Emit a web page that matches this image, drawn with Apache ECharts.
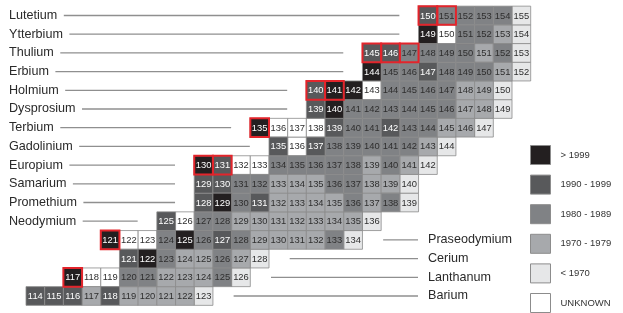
<!DOCTYPE html>
<html>
<head>
<meta charset="utf-8">
<script src="https://cdn.jsdelivr.net/npm/echarts@6/dist/echarts.min.js"></script>
<style>
html,body{margin:0;padding:0;background:#fff;}
#chart{width:623px;height:313px;}
</style>
</head>
<body>
<div id="chart"></div>
<script>
// ---- data ----
const elements = ['Barium','Lanthanum','Cerium','Praseodymium','Neodymium','Promethium','Samarium','Europium','Gadolinium','Terbium','Dysprosium','Holmium','Erbium','Thulium','Ytterbium','Lutetium'];
const protonNumbers = [56,57,58,59,60,61,62,63,64,65,66,67,68,69,70,71];
const lightestMass = [114,117,121,121,125,128,129,130,135,135,139,140,144,145,149,150];
const labelOnRight = [true,true,true,true,false,false,false,false,false,false,false,false,false,false,false,false];
// era code per isotope, from lightest mass upward:
// 0 unknown, 1 <1970, 2 1970-1979, 3 1980-1989, 4 1990-1999, 5 >1999
const discoveryEra = [
  [4,4,4,2,4,2,2,2,2,1],            // Ba 114-123
  [5,0,0,3,3,2,2,2,3,1],            // La 117-126
  [4,5,3,2,2,3,2,1],                // Ce 121-128
  [5,0,0,3,5,3,4,3,2,2,2,2,3,1],    // Pr 121-134
  [4,0,3,3,2,2,2,2,2,2,2,1],        // Nd 125-136
  [4,5,3,4,2,2,2,2,3,2,3,1],        // Pm 128-139
  [4,4,3,3,2,2,2,3,3,2,2,1],        // Sm 129-140
  [5,4,0,0,3,3,3,3,3,2,3,2,1],      // Eu 130-142
  [4,0,4,3,3,3,3,3,2,1],            // Gd 135-144
  [5,0,0,0,4,3,3,4,3,3,2,2,1],      // Tb 135-147
  [4,5,3,3,3,3,3,3,2,2,1],          // Dy 139-149
  [4,5,5,0,3,3,3,3,2,2,1],          // Ho 140-150
  [5,3,3,4,3,3,3,2,1],              // Er 144-152
  [4,4,3,3,3,3,2,3,1],              // Tm 145-153
  [5,0,3,3,2,1],                    // Yb 149-154
  [4,3,3,3,3,1]                     // Lu 150-155
];
// highlighted isotopes [Z, A]
const highlighted = [[71,150],[71,151],[69,145],[69,146],[69,147],[67,140],[67,141],[65,135],[63,130],[63,131],[59,121],[57,117]];
const eraNames = ['UNKNOWN','< 1970','1970 - 1979','1980 - 1989','1990 - 1999','> 1999'];
const eraColors = ['#ffffff','#e6e7e8','#a7a9ac','#808285','#58595b','#231f20'];

// ---- build ----
const cellsByEra = eraNames.map(() => []);
const labelData = [];
elements.forEach((name, i) => {
  const z = protonNumbers[i];
  const eras = discoveryEra[i];
  eras.forEach((e, k) => {
    const a = lightestMass[i] + k;
    cellsByEra[e].push([a - z, z, a, e]);
  });
  labelData.push([lightestMass[i] - z, z, lightestMass[i] + eras.length - 1 - z, labelOnRight[i] ? 1 : 0, i]);
});
const boxData = highlighted.map(([z, a]) => [a - z, z]);

const labelFont = '12.6px "Liberation Sans", Arial, sans-serif';
const measureCtx = document.createElement('canvas').getContext('2d');
measureCtx.font = labelFont;

function renderCell(params, api) {
  const n = api.value(0), z = api.value(1), a = api.value(2), e = api.value(3);
  const p0 = api.coord([n - 0.5, z + 0.5]);
  const p1 = api.coord([n + 0.5, z - 0.5]);
  return {
    type: 'group',
    children: [
      { type: 'rect', shape: { x: p0[0], y: p0[1], width: p1[0] - p0[0], height: p1[1] - p0[1] },
        style: { fill: eraColors[e], stroke: '#8c8c8c', lineWidth: 0.8 } },
      { type: 'text', style: { text: String(a), x: (p0[0] + p1[0]) / 2, y: (p0[1] + p1[1]) / 2 + 0.5,
        align: 'center', verticalAlign: 'middle', fill: e >= 4 ? '#ffffff' : '#2e2e2e',
        font: '9.4px "Liberation Sans", Arial, sans-serif' } }
    ]
  };
}

function renderBox(params, api) {
  const n = api.value(0), z = api.value(1);
  const p0 = api.coord([n - 0.5, z + 0.5]);
  const p1 = api.coord([n + 0.5, z - 0.5]);
  return { type: 'rect', shape: { x: p0[0], y: p0[1], width: p1[0] - p0[0], height: p1[1] - p0[1] },
    style: { fill: 'none', stroke: '#e3242b', lineWidth: 2 } };
}

function renderLabel(params, api) {
  const nFirst = api.value(0), z = api.value(1), nLast = api.value(2), right = api.value(3), idx = api.value(4);
  const name = elements[idx];
  const y = api.coord([nFirst, z])[1];
  let x1, x2, tx;
  if (right) {
    x1 = api.coord([nLast + 1.5, z])[0] + 2;
    x2 = 418;
    tx = 428;
  } else {
    tx = 9;
    x1 = tx + measureCtx.measureText(name).width + 6.5;
    x2 = api.coord([nFirst - 1.5, z])[0] - 0.5;
  }
  return {
    type: 'group',
    children: [
      { type: 'line', shape: { x1: x1, y1: y, x2: x2, y2: y }, style: { stroke: '#8f8f8f', lineWidth: 1.3 } },
      { type: 'text', style: { text: name, x: tx, y: y, align: 'left', verticalAlign: 'middle', fill: '#2a2a2a', font: labelFont } }
    ]
  };
}

const series = eraNames.map((nm, e) => ({
  name: nm,
  type: 'custom',
  renderItem: renderCell,
  data: cellsByEra[e],
  itemStyle: { color: eraColors[e], borderColor: '#8c8c8c', borderWidth: 1 },
  clip: false,
  z: 2
}));
series.push({ type: 'custom', renderItem: renderBox, data: boxData, clip: false, z: 5, silent: true });
series.push({ type: 'custom', renderItem: renderLabel, data: labelData, clip: false, z: 3, silent: true });

const chart = echarts.init(document.getElementById('chart'), null, { renderer: 'canvas' });
chart.setOption({
  animation: false,
  backgroundColor: '#ffffff',
  grid: { left: 26, right: 92.3, top: 6.15, bottom: 7.65 },
  xAxis: { type: 'value', min: 57.5, max: 84.5, show: false },
  yAxis: { type: 'value', min: 55.5, max: 71.5, show: false },
  legend: {
    orient: 'vertical', left: 530, top: 145, padding: 0,
    itemWidth: 20, itemHeight: 19, itemGap: 9.6, icon: 'rect', selectedMode: false,
    itemStyle: { borderColor: '#8c8c8c', borderWidth: 1 },
    textStyle: { fontSize: 9.5, color: '#333', fontFamily: '"Liberation Sans", Arial, sans-serif', padding: [0, 0, 0, 5] },
    data: ['> 1999', '1990 - 1999', '1980 - 1989', '1970 - 1979', '< 1970', 'UNKNOWN']
  },
  series: series
});
</script>
</body>
</html>
